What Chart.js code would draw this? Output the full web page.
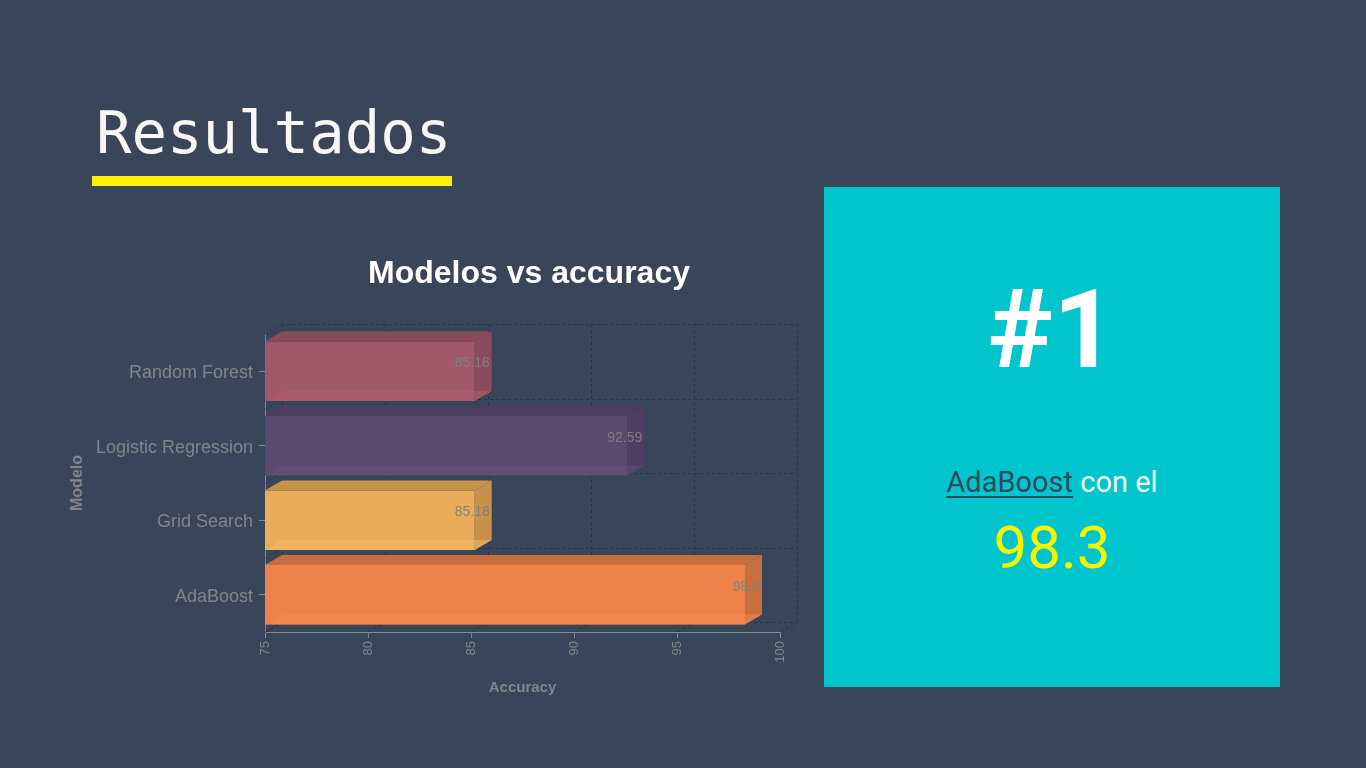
<!DOCTYPE html>
<html lang="es">
<head>
<meta charset="UTF-8">
<title>Resultados</title>
<script src="https://cdn.jsdelivr.net/npm/chart.js@4/dist/chart.umd.min.js"></script>
<style>
    body {
        margin: 0;
        width: 1366px;
        height: 768px;
        background: #394659;
        overflow: hidden;
        position: relative;
        font-family: Roboto, "Liberation Sans", Arial, sans-serif;
    }
    .slide-title {
        position: absolute;
        left: 96px;
        top: 103px;
        font-family: "DejaVu Sans Mono", "Liberation Mono", monospace;
        font-size: 59px;
        line-height: 59px;
        color: #f7f7f7;
        letter-spacing: 0;
    }
    .title-bar {
        position: absolute;
        left: 92px;
        top: 176px;
        width: 360px;
        height: 10px;
        background: #fff200;
    }
    .chart-box {
        position: absolute;
        left: 60px;
        top: 245px;
        width: 760px;
        height: 460px;
    }
    .winner-card {
        position: absolute;
        left: 824px;
        top: 187px;
        width: 456px;
        height: 500px;
        background: #00c5cd;
        text-align: center;
    }
    .winner-card .rank {
        position: absolute;
        left: 0;
        right: 0;
        top: 88px;
        font-size: 110px;
        line-height: 110px;
        font-weight: 700;
        color: #ffffff;
    }
    .winner-card .model {
        position: absolute;
        left: 0;
        right: 0;
        top: 281px;
        font-size: 29px;
        line-height: 29px;
        color: #eefcfc;
    }
    .winner-card .model u {
        color: #2f4a5c;
        text-decoration-thickness: 2px;
        text-underline-offset: 4px;
    }
    .winner-card .score {
        position: absolute;
        left: 0;
        right: 0;
        top: 331px;
        font-size: 60px;
        line-height: 60px;
        color: #f5f500;
    }
</style>
</head>
<body>
<div class="slide-title">Resultados</div>
<div class="title-bar"></div>

<div class="chart-box">
    <canvas id="accuracyChart" width="760" height="460"></canvas>
</div>

<div class="winner-card">
    <div class="rank">#1</div>
    <div class="model"><u>AdaBoost</u> con el</div>
    <div class="score">98.3</div>
</div>

<script>
// グラフのデータ
const modelNames = ['Random Forest', 'Logistic Regression', 'Grid Search', 'AdaBoost'];
const accuracyValues = [85.18, 92.59, 85.18, 98.3];
const accuracyTicks = [75, 80, 85, 90, 95, 100];

// 色（前面・上面・側面・底面）
const frontColors = ['#a0596a', '#5a4a6e', '#ebac5a', '#ee834a'];
const topColors = ['#8a4a5c', '#4c3d5f', '#c99249', '#c96d3d'];
const sideColors = ['#8b4b5d', '#4e3e61', '#c8914a', '#c76f40'];
const bottomColors = ['rgba(180,96,116,0.5)', 'rgba(100,82,122,0.5)', 'rgba(244,184,98,0.55)', 'rgba(246,140,80,0.5)'];

const DEPTH_X = 17;
const DEPTH_Y = -10;
const AXIS_GRAY = '#858a90';
const TEXT_GRAY = '#80858c';
const GRID_COLOR = 'rgba(30,38,50,0.6)';

// 多角形を塗る
function fillPolygon(ctx, points, color) {
    ctx.beginPath();
    ctx.moveTo(points[0][0], points[0][1]);
    for (let i = 1; i < points.length; i++) {
        ctx.lineTo(points[i][0], points[i][1]);
    }
    ctx.closePath();
    ctx.fillStyle = color;
    ctx.fill();
}

// 3D風の棒・奥の壁・ラベル・タイトル
const bar3dPlugin = {
    id: 'bar3d',
    beforeDatasetsDraw(chart) {
        const { ctx, chartArea: area, scales } = chart;
        const xScale = scales.x;
        const yScale = scales.y;
        const step = yScale.getPixelForValue(1) - yScale.getPixelForValue(0);

        ctx.save();
        ctx.strokeStyle = GRID_COLOR;
        ctx.lineWidth = 1;
        ctx.setLineDash([3, 3]);
        ctx.beginPath();

        // 縦の線（奥の壁）と床の斜線
        accuracyTicks.forEach(v => {
            const px = Math.round(xScale.getPixelForValue(v)) + 0.5;
            ctx.moveTo(px + DEPTH_X, area.top + DEPTH_Y);
            ctx.lineTo(px + DEPTH_X, area.bottom + DEPTH_Y);
            ctx.moveTo(px, area.bottom);
            ctx.lineTo(px + DEPTH_X, area.bottom + DEPTH_Y);
        });

        // カテゴリ境界の横線と左壁の斜線
        for (let i = 0; i <= modelNames.length; i++) {
            const py = Math.round(yScale.getPixelForValue(0) - step / 2 + i * step) + 0.5;
            ctx.moveTo(area.left, py);
            ctx.lineTo(area.left + DEPTH_X, py + DEPTH_Y);
            ctx.lineTo(area.right + DEPTH_X, py + DEPTH_Y);
        }
        ctx.stroke();
        ctx.restore();
    },
    afterDatasetsDraw(chart) {
        const { ctx, chartArea: area } = chart;
        const meta = chart.getDatasetMeta(0);

        ctx.save();
        meta.data.forEach((bar, i) => {
            const { x, y, base, height } = bar.getProps(['x', 'y', 'base', 'height'], true);
            // 軸の最小値より左は切り捨てる
            const x0 = Math.max(base, area.left);
            const top = y - height / 2;
            const bottom = y + height / 2;

            // 上面
            fillPolygon(ctx, [[x0, top], [x, top], [x + DEPTH_X, top + DEPTH_Y], [x0 + DEPTH_X, top + DEPTH_Y]], topColors[i]);
            // 側面
            fillPolygon(ctx, [[x, top], [x + DEPTH_X, top + DEPTH_Y], [x + DEPTH_X, bottom + DEPTH_Y], [x, bottom]], sideColors[i]);
            // 透けて見える底面
            fillPolygon(ctx, [[x0, bottom], [x, bottom], [x + DEPTH_X, bottom + DEPTH_Y], [x0 + DEPTH_X, bottom + DEPTH_Y]], bottomColors[i]);

            // 値ラベル
            ctx.font = '14px "Liberation Sans", Arial, sans-serif';
            ctx.fillStyle = 'rgba(128,128,128,0.95)';
            ctx.textAlign = 'right';
            ctx.textBaseline = 'middle';
            ctx.fillText(String(accuracyValues[i]), x + DEPTH_X - 2, y + DEPTH_Y + 2);
        });
        ctx.restore();
    },
    afterDraw(chart) {
        const { ctx, chartArea: area } = chart;
        ctx.save();
        ctx.font = 'bold 32px "Liberation Sans", Arial, sans-serif';
        ctx.fillStyle = '#ffffff';
        ctx.textAlign = 'center';
        ctx.textBaseline = 'middle';
        ctx.fillText('Modelos vs accuracy', (area.left + area.right + DEPTH_X) / 2 - 2, 29);
        ctx.restore();
    }
};

const accuracyCtx = document.getElementById('accuracyChart').getContext('2d');
const accuracyChart = new Chart(accuracyCtx, {
    type: 'bar',
    data: {
        labels: modelNames,
        datasets: [
            {
                label: 'Accuracy',
                data: accuracyValues,
                backgroundColor: frontColors,
                borderWidth: 0,
                categoryPercentage: 1.0,
                barPercentage: 0.8
            }
        ]
    },
    options: {
        indexAxis: 'y',
        responsive: false,
        animation: false,
        layout: {
            padding: { top: 89, right: 40, bottom: 0, left: 0 }
        },
        plugins: {
            legend: { display: false },
            title: { display: false },
            tooltip: { enabled: false }
        },
        scales: {
            x: {
                type: 'linear',
                min: 75,
                max: 100,
                afterFit: scale => { scale.height = 73; },
                afterBuildTicks: scale => {
                    scale.ticks = accuracyTicks.map(v => ({ value: v }));
                },
                ticks: {
                    color: TEXT_GRAY,
                    font: { family: '"Liberation Sans", Arial, sans-serif', size: 13 },
                    minRotation: 90,
                    maxRotation: 90,
                    autoSkip: false,
                    padding: 3
                },
                grid: {
                    drawOnChartArea: false,
                    drawTicks: true,
                    tickLength: 6,
                    color: AXIS_GRAY
                },
                border: { display: true, color: AXIS_GRAY, width: 1 },
                title: {
                    display: true,
                    text: 'Accuracy',
                    color: TEXT_GRAY,
                    font: { family: '"Liberation Sans", Arial, sans-serif', size: 15, weight: 'bold' },
                    padding: { top: 0, bottom: 8 }
                }
            },
            y: {
                afterFit: scale => { scale.width = 205; },
                ticks: {
                    color: TEXT_GRAY,
                    font: { family: '"Liberation Sans", Arial, sans-serif', size: 18 },
                    padding: 6,
                    labelOffset: 2
                },
                grid: {
                    offset: false,
                    drawOnChartArea: false,
                    drawTicks: true,
                    tickLength: 6,
                    color: AXIS_GRAY
                },
                border: { display: true, color: AXIS_GRAY, width: 1 },
                title: {
                    display: true,
                    text: 'Modelo',
                    color: TEXT_GRAY,
                    font: { family: '"Liberation Sans", Arial, sans-serif', size: 16, weight: 'bold' },
                    padding: { top: 8, bottom: 0 }
                }
            }
        }
    },
    plugins: [bar3dPlugin]
});
</script>
</body>
</html>
